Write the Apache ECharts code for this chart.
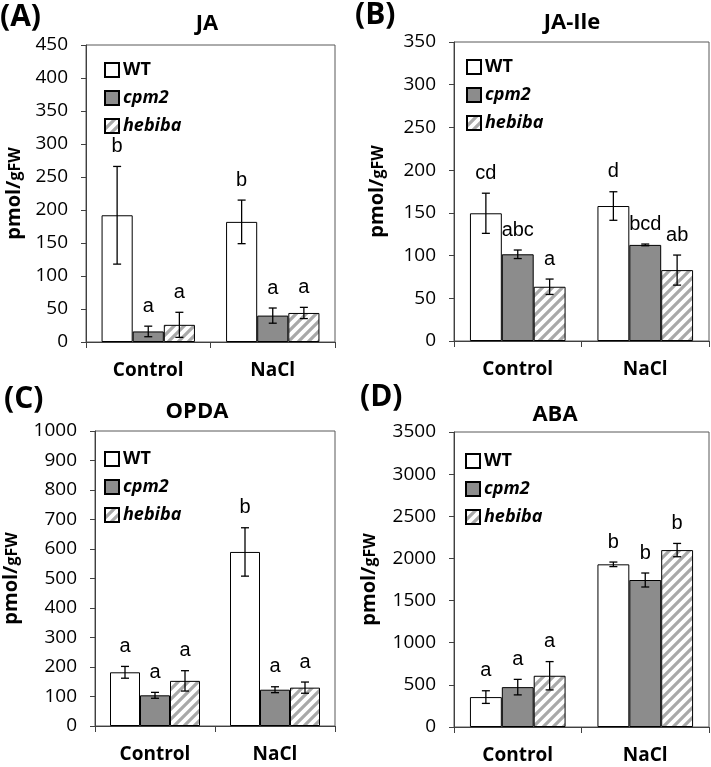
<!DOCTYPE html>
<html><head><meta charset="utf-8">
<script src="https://cdn.jsdelivr.net/npm/echarts@6/dist/echarts.min.js"></script>
<style>html,body{margin:0;padding:0;background:#fff}#c{width:711px;height:767px}</style>
</head><body><div id="c"></div>
<script>
// ---------- data ----------
const categories = ['Control', 'NaCl'];
const genotypes = ['WT', 'cpm2', 'hebiba'];

const jaMean   = { WT: [192, 182],    cpm2: [16, 40],      hebiba: [26, 44] };
const jaErr    = { WT: [74, 33],      cpm2: [8, 11.5],     hebiba: [19, 8.5] };
const jaLetters = { WT: ['b', 'b'],   cpm2: ['a', 'a'],    hebiba: ['a', 'a'] };
const jaTicks = [0, 450, 50];

const jaIleMean = { WT: [149.5, 158], cpm2: [101.5, 112.5], hebiba: [63.5, 83] };
const jaIleErr  = { WT: [23.5, 16.7], cpm2: [5, 1],         hebiba: [9, 17.6] };
const jaIleLetters = { WT: ['cd', 'd'], cpm2: ['abc', 'bcd'], hebiba: ['a', 'ab'] };
const jaIleTicks = [0, 350, 50];

const opdaMean = { WT: [182, 590],    cpm2: [104, 123],    hebiba: [153, 130] };
const opdaErr  = { WT: [20, 82],      cpm2: [10, 10],      hebiba: [34.5, 19] };
const opdaLetters = { WT: ['a', 'b'], cpm2: ['a', 'a'],    hebiba: ['a', 'a'] };
const opdaTicks = [0, 1000, 100];

const abaMean = { WT: [355, 1930],    cpm2: [473, 1744],   hebiba: [608, 2099] };
const abaErr  = { WT: [75, 27],       cpm2: [92, 83],      hebiba: [168, 79] };
const abaLetters = { WT: ['a', 'b'],  cpm2: ['a', 'b'],    hebiba: ['a', 'b'] };
const abaTicks = [0, 3500, 500];

const panelTitles = ['JA', 'JA-Ile', 'OPDA', 'ABA'];
const panelTags = ['(A)', '(B)', '(C)', '(D)'];

// ---------- layout / style ----------
const panels = [
  { mean: jaMean, err: jaErr, letters: jaLetters, ticks: jaTicks,
    grid: { left: 86, top: 45, width: 249, height: 297 }, nameGap: 62,
    title: [207, 24], tag: [0, 2], legend: { left: 99, top: 56 } },
  { mean: jaIleMean, err: jaIleErr, letters: jaIleLetters, ticks: jaIleTicks,
    grid: { left: 454, top: 42, width: 255, height: 299 }, nameGap: 67,
    title: [572, 23], tag: [355, 0], legend: { left: 461, top: 53 } },
  { mean: opdaMean, err: opdaErr, letters: opdaLetters, ticks: opdaTicks,
    grid: { left: 89, top: 431, width: 246, height: 295 }, nameGap: 74,
    title: [197, 412], tag: [4, 384], legend: { left: 99, top: 445 } },
  { mean: abaMean, err: abaErr, letters: abaLetters, ticks: abaTicks,
    grid: { left: 454, top: 432, width: 255, height: 295 }, nameGap: 75,
    title: [555, 415], tag: [360, 382], legend: { left: 460, top: 447 } }
];

const hatch = (function () {
  const s = 10;
  const c = document.createElement('canvas');
  c.width = s; c.height = s;
  const ctx = c.getContext('2d');
  ctx.fillStyle = '#ffffff'; ctx.fillRect(0, 0, s, s);
  ctx.strokeStyle = '#a9a9a9'; ctx.lineWidth = 3.2;
  ctx.beginPath();
  ctx.moveTo(-2, s + 2); ctx.lineTo(s + 2, -2);
  ctx.moveTo(-s / 2 - 2, s / 2 + 2); ctx.lineTo(s / 2 + 2, -s / 2 - 2);
  ctx.moveTo(s / 2 - 2, s * 1.5 + 2); ctx.lineTo(s * 1.5 + 2, s / 2 - 2);
  ctx.stroke();
  return c;
})();

const barStyles = {
  WT: { color: '#ffffff', borderColor: '#000', borderWidth: 1 },
  cpm2: { color: '#8c8c8c', borderColor: '#000', borderWidth: 1 },
  hebiba: { color: { image: hatch, repeat: 'repeat' }, borderColor: '#000', borderWidth: 1 }
};

const FONT = '"Open Sans", "Liberation Sans", sans-serif';
const grids = [], xAxes = [], yAxes = [], series = [], legends = [], graphics = [];

panels.forEach((p, pi) => {
  grids.push(Object.assign({ show: true, borderColor: '#595959', borderWidth: 1, backgroundColor: 'transparent' }, p.grid));
  xAxes.push({
    type: 'category', gridIndex: pi, data: categories,
    axisLine: { lineStyle: { color: '#404040', width: 1 } },
    axisTick: { show: true, length: 6, lineStyle: { color: '#404040' } },
    axisLabel: { margin: 19, fontFamily: FONT, fontWeight: 'bold', fontSize: 19, color: '#000' }
  });
  yAxes.push({
    type: 'value', gridIndex: pi, min: p.ticks[0], max: p.ticks[1], interval: p.ticks[2],
    name: '{a|pmol/}{b|gFW}', nameLocation: 'middle', nameGap: p.nameGap, nameRotate: 90,
    nameTextStyle: { rich: {
      a: { fontFamily: FONT, fontWeight: 'bold', fontSize: 20, color: '#000' },
      b: { fontFamily: FONT, fontWeight: 'bold', fontSize: 16, color: '#000', padding: [3, 0, 0, 0] } } },
    axisLine: { show: true, lineStyle: { color: '#404040', width: 1 } },
    axisTick: { show: true, length: 5, lineStyle: { color: '#404040' } },
    splitLine: { show: false },
    axisLabel: { margin: 18, fontFamily: FONT, fontSize: 19, color: '#000', formatter: v => String(v) }
  });
  genotypes.forEach((g) => {
    series.push({
      type: 'bar', name: g, xAxisIndex: pi, yAxisIndex: pi,
      data: p.mean[g], barWidth: '25%', barGap: '0%',
      itemStyle: barStyles[g], emphasis: { disabled: true }, animation: false
    });
  });
  // error bars and significance letters
  const ebData = [];
  genotypes.forEach((g, k) => {
    categories.forEach((c, ci) => {
      ebData.push([ci, p.mean[g][ci], p.err[g][ci], k, p.letters[g][ci]]);
    });
  });
  series.push({
    type: 'custom', xAxisIndex: pi, yAxisIndex: pi, z: 10, animation: false,
    data: ebData.map(d => [d[0], d[1], d[2], d[3]]),
    encode: { x: 0, y: 1 },
    renderItem: function (params, api) {
      const d = ebData[params.dataIndex];
      const cat = d[0], m = d[1], e = d[2], k = d[3], letter = d[4];
      const band = api.size([1, 0])[0];
      const cx = api.coord([cat, m])[0] + (k - 1) * band * 0.25;
      const yTop = api.coord([cat, m + e])[1];
      const yBot = api.coord([cat, m - e])[1];
      const cap = 4;
      const ls = { stroke: '#000', lineWidth: 1.3 };
      return { type: 'group', children: [
        { type: 'line', shape: { x1: cx, y1: yTop, x2: cx, y2: yBot }, style: ls },
        { type: 'line', shape: { x1: cx - cap, y1: yTop, x2: cx + cap, y2: yTop }, style: ls },
        { type: 'line', shape: { x1: cx - cap, y1: yBot, x2: cx + cap, y2: yBot }, style: ls },
        { type: 'text', x: cx, y: yTop - 10, style: { text: letter, fill: '#000',
          font: '20px "Liberation Sans", Arial, sans-serif', textAlign: 'center', textVerticalAlign: 'bottom' } }
      ] };
    }
  });
  legends.push({
    orient: 'vertical', left: p.legend.left, top: p.legend.top,
    data: genotypes, itemWidth: 14, itemHeight: 14, itemGap: 10, selectedMode: false,
    icon: 'rect',
    formatter: n => n === 'WT' ? '{n|' + n + '}' : '{i|' + n + '}',
    textStyle: { padding: [0, 0, 0, -1], rich: {
      n: { fontFamily: FONT, fontWeight: 'bold', fontSize: 18, color: '#000', lineHeight: 16 },
      i: { fontFamily: FONT, fontWeight: 'bold', fontStyle: 'italic', fontSize: 18, color: '#000', lineHeight: 16 } } }
  });
  graphics.push({ type: 'text', x: p.title[0], y: p.title[1], style: {
    text: panelTitles[pi], fill: '#000', font: 'bold 22px ' + FONT, textAlign: 'center', textVerticalAlign: 'middle' } });
  graphics.push({ type: 'text', x: p.tag[0], y: p.tag[1], style: {
    text: panelTags[pi], fill: '#000', font: 'bold 30px ' + FONT, textAlign: 'left', textVerticalAlign: 'top' } });
});

const chart = echarts.init(document.getElementById('c'), null, { renderer: 'canvas' });
chart.setOption({
  animation: false,
  backgroundColor: '#fff',
  grid: grids, xAxis: xAxes, yAxis: yAxes, series: series, legend: legends, graphic: graphics
});
</script></body></html>
